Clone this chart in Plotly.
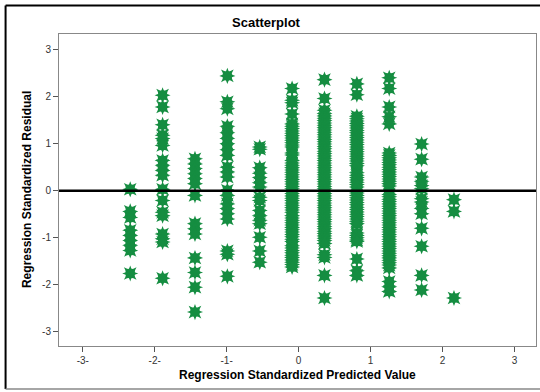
import plotly.graph_objects as go

# Column positions (standardized predicted values)
col_x = [-2.34, -1.89, -1.44, -0.99, -0.54, -0.09, 0.36, 0.81, 1.26, 1.71, 2.16]

# Standardized residuals in each column
col1 = [0.03, -0.44, -0.57, -0.84, -0.95, -1.06, -1.16, -1.27, -1.76]
col2 = [2.03, 1.78, 1.40, 1.18, 1.11, 0.96, 0.64, 0.54, 0.43, 0.33, 0.03, -0.21,
        -0.46, -0.53, -0.92, -1.02, -1.09, -1.86]
col3 = [0.68, 0.57, 0.47, 0.36, 0.26, 0.15, -0.10, -0.70, -0.81, -0.92, -1.43,
        -1.74, -2.05, -2.58]
col4 = [2.44, 1.89, 1.74, 1.37, 1.23, 1.11, 1.00, 0.87, 0.75, 0.50, 0.40, 0.29,
        0.01, -0.10, -0.28, -0.38, -0.49, -0.60, -1.28, -1.35, -1.82]
col5 = [0.93, 0.88, 0.49, 0.37, 0.28, 0.17, 0.08, -0.14, -0.21, -0.42, -0.53,
        -0.63, -0.70, -0.99, -1.28, -1.52]
col6 = [2.17, 1.92, 1.87, 1.63, 1.42, 1.37, 1.32, 1.27, 1.22, 1.17, 1.12, 1.07,
        1.02, 0.97, 0.93, 0.80, 0.76, 0.64, 0.59, 0.54, 0.49, 0.44, 0.39, 0.34,
        0.29, 0.24, 0.19, 0.14, 0.09, 0.04, -0.01, -0.06, -0.11, -0.16, -0.21,
        -0.26, -0.31, -0.36, -0.41, -0.46, -0.53, -0.58, -0.63, -0.68, -0.73,
        -0.78, -0.83, -0.88, -0.93, -0.98, -1.03, -1.08, -1.17, -1.22, -1.27,
        -1.32, -1.37, -1.42, -1.47, -1.52, -1.57, -1.62]
col7 = [2.36, 1.96, 1.71, 1.64, 1.59, 1.54, 1.49, 1.44, 1.39, 1.34, 1.29, 1.24,
        1.19, 1.14, 1.09, 1.04, 0.99, 0.94, 0.89, 0.84, 0.79, 0.74, 0.69, 0.64,
        0.59, 0.54, 0.49, 0.44, 0.39, 0.34, 0.29, 0.24, 0.19, 0.14, 0.09, 0.04,
        -0.01, -0.06, -0.11, -0.16, -0.21, -0.26, -0.31, -0.36, -0.41, -0.46,
        -0.51, -0.56, -0.61, -0.66, -0.71, -0.76, -0.81, -0.86, -0.91, -0.96,
        -1.01, -1.06, -1.12, -1.36, -1.42, -1.80, -2.28]
col8 = [2.27, 2.04, 1.58, 1.53, 1.48, 1.43, 1.38, 1.33, 1.28, 1.23, 1.18, 1.13,
        1.08, 1.03, 0.98, 0.93, 0.88, 0.83, 0.78, 0.73, 0.68, 0.63, 0.58, 0.53,
        0.38, 0.33, 0.28, 0.23, 0.18, 0.13, 0.08, -0.05, -0.10, -0.15, -0.20,
        -0.25, -0.30, -0.35, -0.40, -0.45, -0.50, -0.55, -0.60, -0.65, -0.70,
        -0.90, -0.95, -1.00, -1.05, -1.08, -1.45, -1.70, -1.80]
col9 = [2.40, 2.17, 1.78, 1.57, 1.42, 0.80, 0.75, 0.70, 0.65, 0.60, 0.55, 0.50,
        0.45, 0.40, 0.35, 0.30, 0.25, 0.20, 0.15, 0.10, -0.08, -0.13, -0.18,
        -0.23, -0.28, -0.33, -0.38, -0.43, -0.48, -0.53, -0.58, -0.63, -0.68,
        -0.73, -0.78, -0.83, -0.88, -0.93, -0.98, -1.03, -1.08, -1.13, -1.18,
        -1.23, -1.28, -1.33, -1.38, -1.43, -1.48, -1.53, -1.58, -1.64, -1.93,
        -2.04, -2.14]
col10 = [0.99, 0.67, 0.29, 0.20, 0.11, 0.04, -0.17, -0.24, -0.38, -0.49, -0.80,
         -1.18, -1.80, -2.11]
col11 = [-0.19, -0.44, -2.28]

columns = [col1, col2, col3, col4, col5, col6, col7, col8, col9, col10, col11]

xs, ys = [], []
for cx, vals in zip(col_x, columns):
    for v in vals:
        xs.append(cx)
        ys.append(v)

x_ticks = [-3, -2, -1, 0, 1, 2, 3]
x_ticklabels = ["-3-", "-2-", "-1-", "0", "1", "2", "3"]
y_ticks = [-3, -2, -1, 0, 1, 2, 3]
y_ticklabels = ["-3", "-2", "-1", "0", "1", "2", "3"]

GREEN = "#158d41"
FONT = "Liberation Sans"

fig = go.Figure()
for sym in ["star-square", "star-diamond"]:
    fig.add_trace(go.Scatter(
        x=xs, y=ys, mode="markers", showlegend=False, hoverinfo="skip",
        marker=dict(symbol=sym, size=11.5, color=GREEN, line=dict(width=0)),
    ))

fig.update_layout(
    width=540, height=392,
    margin=dict(l=59, r=4, t=34, b=46),
    paper_bgcolor="white", plot_bgcolor="white",
    font=dict(family=FONT, color="#333333"),
    xaxis=dict(range=[-3.33, 3.30], tickvals=x_ticks, ticktext=x_ticklabels,
               ticks="outside", ticklen=5, tickcolor="#555555", tickwidth=1,
               showgrid=False, zeroline=False, showline=True, linecolor="#888888",
               linewidth=1, mirror=True, tickfont=dict(size=10, color="#333333")),
    yaxis=dict(range=[-3.30, 3.33], tickvals=y_ticks, ticktext=y_ticklabels,
               ticks="outside", ticklen=5, tickcolor="#555555", tickwidth=1,
               showgrid=False, zeroline=False, showline=True, linecolor="#888888",
               linewidth=1, mirror=True, tickfont=dict(size=10, color="#333333")),
    shapes=[
        dict(type="line", xref="paper", yref="y", x0=0, x1=1, y0=0, y1=0,
             line=dict(color="black", width=2.5), layer="above"),
        # outer chart frame
        dict(type="line", xref="paper", yref="paper", x0=-0.112, x1=-0.112,
             y0=-0.138, y1=1.091, line=dict(color="black", width=2)),
        dict(type="line", xref="paper", yref="paper", x0=-0.112, x1=1.05,
             y0=1.091, y1=1.091, line=dict(color="black", width=2)),
        dict(type="line", xref="paper", yref="paper", x0=-0.112, x1=1.05,
             y0=-0.138, y1=-0.138, line=dict(color="#888888", width=1.5)),
    ],
    annotations=[
        dict(text="<b>Scatterplot</b>", xref="paper", yref="paper",
             x=0.436, y=1.038, showarrow=False, xanchor="center", yanchor="middle",
             font=dict(family=FONT, size=13, color="black")),
        dict(text="<b>Regression Standardized Predicted Value</b>", xref="paper",
             yref="paper", x=0.5, y=-0.093, showarrow=False, xanchor="center",
             yanchor="middle", font=dict(family=FONT, size=12, color="black")),
        dict(text="<b>Regression Standardized Residual</b>", xref="paper",
             yref="paper", x=-0.067, y=0.5, showarrow=False, xanchor="center",
             yanchor="middle", textangle=-90,
             font=dict(family=FONT, size=12, color="black")),
    ],
)

fig.write_html("out.html")
